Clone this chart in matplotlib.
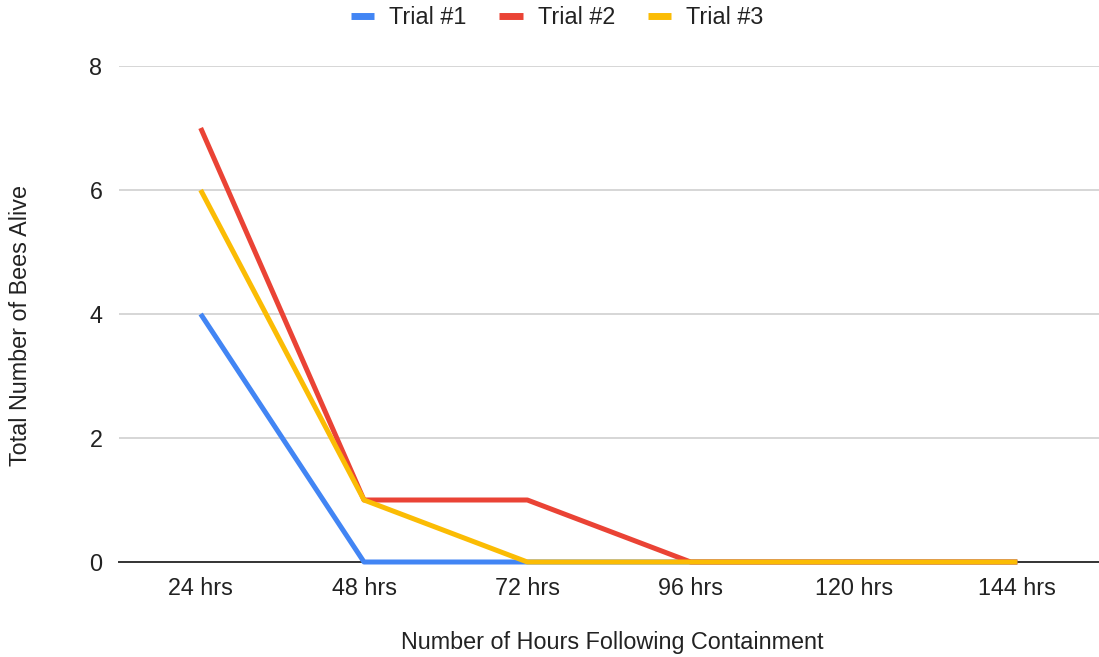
import matplotlib
matplotlib.use("Agg")
import matplotlib.pyplot as plt

categories = ["24 hrs", "48 hrs", "72 hrs", "96 hrs", "120 hrs", "144 hrs"]
trial1 = [4, 0, 0, 0, 0, 0]
trial2 = [7, 1, 1, 0, 0, 0]
trial3 = [6, 1, 0, 0, 0, 0]
series_names = ["Trial #1", "Trial #2", "Trial #3"]
colors = ["#4285F4", "#EA4335", "#FBBC04"]
yticks = [0, 2, 4, 6, 8]

plt.rcParams['font.family'] = ['Liberation Sans', 'DejaVu Sans']
FS = 16.8

fig = plt.figure(figsize=(10.99, 6.57), dpi=100)
W, H = 1099, 657
left, right, top, bottom = 119, 1099, 66, 562
ax = fig.add_axes([left / W, 1 - bottom / H, (right - left) / W, (bottom - top) / H])

x = list(range(len(categories)))
for vals, name, c in zip([trial1, trial2, trial3], series_names, colors):
    ax.plot(x, vals, color=c, lw=3.6, label=name, solid_capstyle='butt',
            solid_joinstyle='round', clip_on=False, zorder=3)

ax.set_xlim(-0.5, len(categories) - 0.5)
ax.set_ylim(0, 8)
ax.set_yticks(yticks)
ax.set_yticklabels([str(v) for v in yticks])
ax.set_xticks(x)
ax.set_xticklabels(categories)
ax.tick_params(axis='both', length=0, labelsize=FS, colors='#222222')
ax.tick_params(axis='y', pad=12)
ax.tick_params(axis='x', pad=11)

ax.grid(axis='y', color='#cccccc', lw=1.1)
ax.set_axisbelow(True)
for s in ['top', 'right', 'left']:
    ax.spines[s].set_visible(False)
ax.spines['bottom'].set_color('#333333')
ax.spines['bottom'].set_linewidth(1.4)
ax.spines['bottom'].set_zorder(2)

fig.text(21 / W, 1 - 325 / H, "Total Number of Bees Alive", rotation=90,
         ha='center', va='center', fontsize=FS, color='#222222')
fig.text(612 / W, 1 - 642 / H, "Number of Hours Following Containment",
         ha='center', va='center', fontsize=FS, color='#222222')

leg = fig.legend(loc='center', bbox_to_anchor=(557 / W, 1 - 18 / H), ncol=3,
                 frameon=False, fontsize=FS, handlelength=1.0,
                 handletextpad=0.65, columnspacing=1.4)
for h in leg.get_lines():
    h.set_linewidth(5)
for t in leg.get_texts():
    t.set_color('#222222')

fig.savefig("out.png", dpi=100)
